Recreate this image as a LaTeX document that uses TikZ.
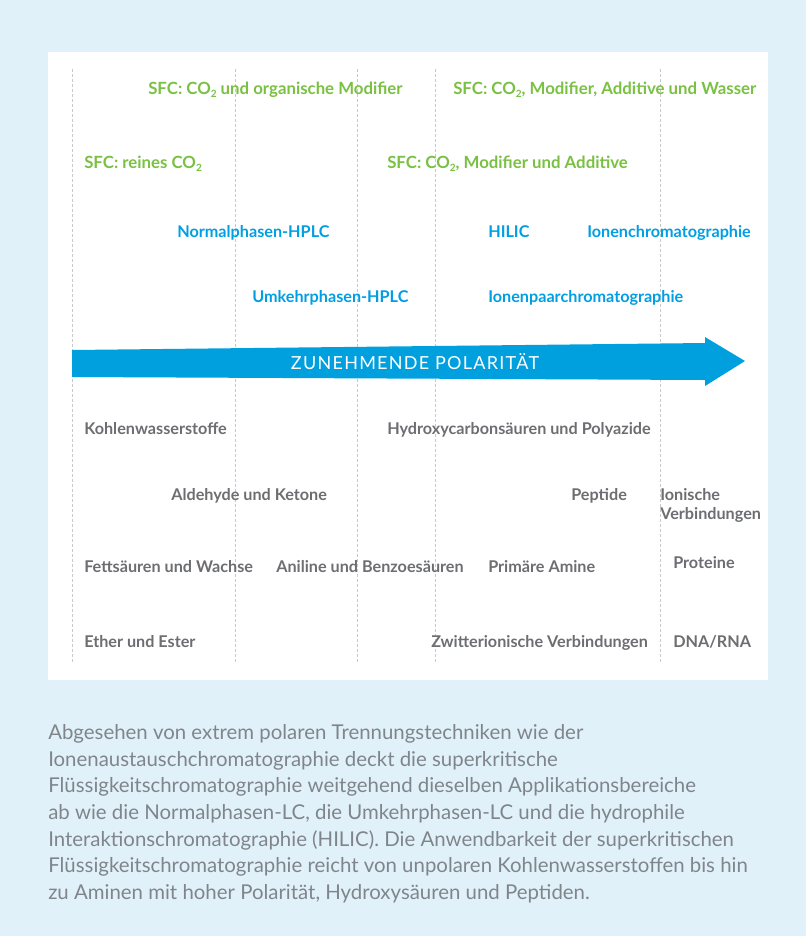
\documentclass[tikz,border=0pt]{standalone}
\usepackage{fontspec}
\setmainfont{Lato}
\usepackage{tikz}
\usepackage{xcolor}

\definecolor{sfcgreen}{RGB}{122,193,67}
\definecolor{hplcblue}{RGB}{0,159,227}
\definecolor{arrowblue}{RGB}{0,160,223}
\definecolor{labelgrey}{RGB}{109,110,113}
\definecolor{textgrey}{RGB}{128,133,140}
\definecolor{panelback}{RGB}{225,241,249}
\definecolor{guidegrey}{RGB}{200,200,200}

\newcommand{\cotwo}{CO\raisebox{-0.45ex}{\fontsize{7.5}{8}\selectfont 2}}

\begin{document}
\begin{tikzpicture}[x=0.75pt,y=0.75pt,yscale=-1,xscale=1,
    sfc/.style={anchor=base west, inner sep=0pt, text=sfcgreen, font=\bfseries\fontsize{12.6}{14}\selectfont},
    method/.style={anchor=base west, inner sep=0pt, text=hplcblue, font=\bfseries\fontsize{12.15}{14}\selectfont},
    analyte/.style={anchor=base west, inner sep=0pt, text=labelgrey, font=\bfseries\fontsize{12.15}{14.25}\selectfont},
    guide/.style={draw=guidegrey, line width=0.75, dash pattern=on 2.25pt off 1.5pt}]

%Background and panel
\fill [panelback] (0,0) rectangle (806,936) ;
\fill [white] (48,52) rectangle (768,680) ;

%Straight Lines
\draw [guide] (72,69) -- (72,663) ;
\draw [guide] (235,69) -- (235,663) ;
\draw [guide] (357,69) -- (357,663) ;
\draw [guide] (435,69) -- (435,663) ;
\draw [guide] (660,69) -- (660,663) ;

%Shape: Right Arrow
\fill [arrowblue] (72,350) -- (705,343) -- (705,337) -- (745,361) -- (705,386) -- (705,380) -- (72,377) -- cycle ;
% Text Node
\draw (415,361.5) node [inner sep=0pt, text=white, font=\fontsize{13.5}{15}\selectfont\addfontfeatures{LetterSpace=7}] (polaritaet) {ZUNEHMENDE POLARITÄT};

% Text Node
\draw (148,94) node [sfc] (sfcorg) {SFC: \cotwo{} und organische Modifier};
% Text Node
\draw (453,94) node [sfc] (sfcwasser) {SFC: \cotwo, Modifier, Additive und Wasser};
% Text Node
\draw (84,168) node [sfc] (sfcrein) {SFC: reines \cotwo};
% Text Node
\draw (387,168) node [sfc] (sfcadd) {SFC: \cotwo, Modifier und Additive};

% Text Node
\draw (177,237) node [method] (nphplc) {Normalphasen-HPLC};
% Text Node
\draw (488,237) node [method] (hilic) {HILIC};
% Text Node
\draw (587,237) node [method] (ionchrom) {Ionenchromatographie};
% Text Node
\draw (252,302) node [method] (rphplc) {Umkehrphasen-HPLC};
% Text Node
\draw (488,302) node [method] (ionpaar) {Ionenpaarchromatographie};

% Text Node
\draw (84,434) node [analyte] (kohlenw) {Kohlenwasserstoffe};
% Text Node
\draw (387,434) node [analyte] (hydroxy) {Hydroxycarbonsäuren und Polyazide};
% Text Node
\draw (171,500) node [analyte] (aldehyd) {Aldehyde und Ketone};
% Text Node
\draw (571,500) node [analyte] (peptid) {Peptide};
% Text Node
\draw (660,519) node [analyte, align=left] (ionisch) {Ionische\\Verbindungen};
% Text Node
\draw (84,572) node [analyte] (fettsr) {Fettsäuren und Wachse};
% Text Node
\draw (276,572) node [analyte] (anilin) {Aniline und Benzoesäuren};
% Text Node
\draw (488,572) node [analyte] (amine) {Primäre Amine};
% Text Node
\draw (673,568) node [analyte] (protein) {Proteine};
% Text Node
\draw (84,647) node [analyte] (ether) {Ether und Ester};
% Text Node
\draw (431,647) node [analyte] (zwitter) {Zwitterionische Verbindungen};
% Text Node
\draw (673,647) node [analyte] (dnarna) {DNA/RNA};

% Text Node
\draw (48,899.5) node [anchor=base west, inner sep=0pt, align=left, text=textgrey, font=\fontsize{15.3}{20}\selectfont] (caption) {Abgesehen von extrem polaren Trennungstechniken wie der\\Ionenaustauschchromatographie deckt die superkritische\\Flüssigkeitschromatographie weitgehend dieselben Applikationsbereiche\\ab wie die Normalphasen-LC, die Umkehrphasen-LC und die hydrophile\\Interaktionschromatographie (HILIC). Die Anwendbarkeit der superkritischen\\Flüssigkeitschromatographie reicht von unpolaren Kohlenwasserstoffen bis hin\\zu Aminen mit hoher Polarität, Hydroxysäuren und Peptiden.};

\end{tikzpicture}
\end{document}
